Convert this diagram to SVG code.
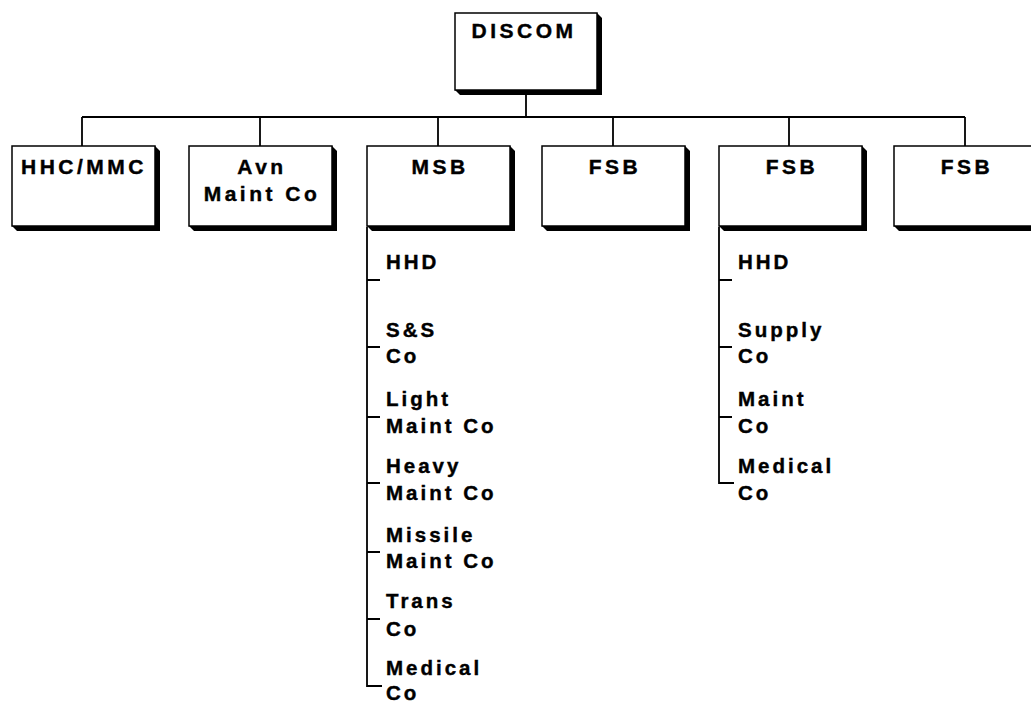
<svg xmlns="http://www.w3.org/2000/svg" width="1031" height="703" viewBox="0 0 1031 703">
<style>
.box{fill:#fff;stroke:#000;stroke-width:1.5}
.sh{fill:#000}
.lbl{font-family:"Liberation Sans",Arial,sans-serif;font-weight:bold;font-size:21px;letter-spacing:3.5px;text-anchor:middle;fill:#000;stroke:#000;stroke-width:0.4}
.it{font-family:"Liberation Sans",Arial,sans-serif;font-weight:bold;font-size:20.5px;letter-spacing:3px;fill:#000;stroke:#000;stroke-width:0.4}
.ln{stroke:#000;stroke-width:1.8;fill:none}
</style>
<rect width="1031" height="703" fill="#fff"/>
<g id="connectors" class="ln">
<path d="M526,95 V117 M82,117 H965 M82,117 V146 M260,117 V146 M438,117 V146 M613,117 V146 M789,117 V146 M965,117 V146"/>
<path d="M367,227 V686 H382 M367,280 H380 M367,347 H380 M367,417 H380 M367,483 H380 M367,552 H380 M367,619 H380"/>
<path d="M719,227 V483 H734 M719,280 H732 M719,347 H732 M719,417 H732"/>
</g>
<g id="discom">
<polygon class="sh" points="597,13 602,18 602,95 460,95 455,90"/>
<rect class="box" x="455" y="13" width="142" height="77"/>
<text class="lbl" x="524" y="38">DISCOM</text>
</g>
<g id="hhc">
<polygon class="sh" points="155,146 160,151 160,231 17,231 12,226"/>
<rect class="box" x="12" y="146" width="143" height="80"/>
<text class="lbl" x="84" y="174">HHC/MMC</text>
</g>
<g id="avn">
<polygon class="sh" points="332,146 337,151 337,231 194,231 189,226"/>
<rect class="box" x="189" y="146" width="143" height="80"/>
<text class="lbl" x="262" y="174">Avn</text>
<text class="lbl" x="262" y="201">Maint Co</text>
</g>
<g id="msb">
<polygon class="sh" points="510,146 515,151 515,231 372,231 367,226"/>
<rect class="box" x="367" y="146" width="143" height="80"/>
<text class="lbl" x="440" y="174">MSB</text>
</g>
<g id="fsb1">
<polygon class="sh" points="685,146 690,151 690,231 547,231 542,226"/>
<rect class="box" x="542" y="146" width="143" height="80"/>
<text class="lbl" x="615" y="174">FSB</text>
</g>
<g id="fsb2">
<polygon class="sh" points="862,146 867,151 867,231 724,231 719,226"/>
<rect class="box" x="719" y="146" width="143" height="80"/>
<text class="lbl" x="792" y="174">FSB</text>
</g>
<g id="fsb3">
<polygon class="sh" points="1037,146 1042,151 1042,231 899,231 894,226"/>
<rect class="box" x="894" y="146" width="143" height="80"/>
<text class="lbl" x="967" y="174">FSB</text>
</g>
<g id="msb-list">
<text class="it" x="386" y="269">HHD</text>
<text class="it" x="386" y="337">S&amp;S</text>
<text class="it" x="386" y="363">Co</text>
<text class="it" x="386" y="406">Light</text>
<text class="it" x="386" y="433">Maint Co</text>
<text class="it" x="386" y="473">Heavy</text>
<text class="it" x="386" y="500">Maint Co</text>
<text class="it" x="386" y="542">Missile</text>
<text class="it" x="386" y="568">Maint Co</text>
<text class="it" x="386" y="608">Trans</text>
<text class="it" x="386" y="636">Co</text>
<text class="it" x="386" y="675">Medical</text>
<text class="it" x="386" y="700">Co</text>
</g>
<g id="fsb-list">
<text class="it" x="738" y="269">HHD</text>
<text class="it" x="738" y="337">Supply</text>
<text class="it" x="738" y="363">Co</text>
<text class="it" x="738" y="406">Maint</text>
<text class="it" x="738" y="433">Co</text>
<text class="it" x="738" y="473">Medical</text>
<text class="it" x="738" y="500">Co</text>
</g>
</svg>
